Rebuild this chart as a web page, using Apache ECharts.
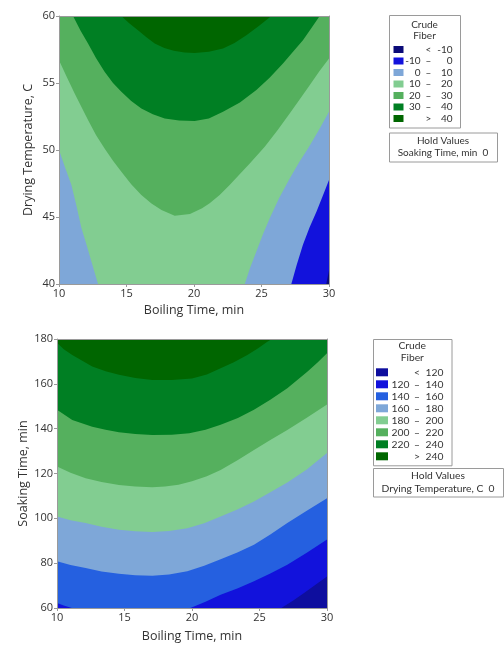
<!DOCTYPE html>
<html><head><meta charset="utf-8">
<script src="https://cdn.jsdelivr.net/npm/echarts@6/dist/echarts.min.js"></script>
<style>html,body{margin:0;padding:0;background:#fff}#c{width:504px;height:645px}</style>
</head><body><div id="c"></div>
<script>
// ---------- axes / ticks ----------
const boilTicks = [10, 15, 20, 25, 30];
const dryTicks = [40, 45, 50, 55, 60];
const soakTicks = [60, 80, 100, 120, 140, 160, 180];

// ---------- legend levels & colours ----------
const fiberLevels1 = [-10, 0, 10, 20, 30, 40];
const fiberColors1 = ['#0b0b78', '#1212dc', '#7ea7d8', '#82cd91', '#55b05e', '#007f23', '#006600'];
const fiberLevels2 = [120, 140, 160, 180, 200, 220, 240];
const fiberColors2 = ['#0e0e9e', '#1212dc', '#2560e0', '#7ea7d8', '#82cd91', '#55b05e', '#007f23', '#006600'];
const holdText1 = ['Hold Values', 'Soaking Time, min  0'];
const holdText2 = ['Hold Values', 'Drying Temperature, C  0'];

// ---------- chart 1 contour lines (Boiling Time x, Drying Temperature y) ----------
const dry_c10L = [[10,50],[10.45,48.7],[10.92,47.39],[11.3,45.8],[11.66,44.17],[12.05,42.9],[12.4,41.68],[12.89,40]];
const dry_c10R = [[23.76,40],[24.15,41.2],[24.62,42.43],[25.1,43.7],[25.61,44.91],[26.3,46.4],[27.1,47.89],[27.8,49.1],[28.5,50.2],[29.25,51.5],[30,52.85]];
const dry_c0R = [[27.21,40],[27.6,41.4],[28.07,42.93],[28.55,44.2],[29.07,45.4],[29.55,46.6],[30,47.77]];
const dry_cm10R = [[29.8,40],[30,41]];
const dry_c20 = [[10,56.7],[10.55,55.5],[11.16,54.22],[12.15,52.23],[12.75,51.1],[13.39,50.1],[14.0,49.2],[14.62,48.38],[15.35,47.45],[16.1,46.65],[16.85,46.0],[17.59,45.53],[18.57,45.1],[19.7,45.22],[20.6,45.65],[21.16,46.03],[21.9,46.65],[22.64,47.39],[23.4,48.2],[24.13,49.0],[25.24,50.25],[26.2,51.5],[27.1,52.75],[27.85,53.8],[28.58,54.86],[29.3,55.9],[30,56.83]];
const dry_c30 = [[11.04,60],[11.6,58.9],[12.15,57.94],[12.75,56.85],[13.39,55.83],[14.0,55.0],[14.62,54.34],[15.35,53.65],[16.1,53.1],[16.95,52.66],[17.83,52.36],[18.9,52.2],[20.05,52.16],[21.1,52.35],[22.15,52.85],[23.4,53.55],[24.62,54.47],[25.6,55.4],[26.59,56.46],[27.35,57.35],[28.07,58.19],[28.7,59.1],[29.31,60]];
const dry_c40 = [[14.62,60],[15.2,59.45],[15.85,58.94],[16.5,58.4],[17.09,57.94],[17.8,57.62],[18.5,57.4],[19.3,57.27],[20.05,57.24],[21.1,57.33],[22.15,57.57],[23.0,57.98],[23.88,58.56],[24.8,59.25],[25.73,60]];

// ---------- chart 2 contour lines (Boiling Time x, Soaking Time y) ----------
const soak_c120 = [[26.62,60],[27.5,63.3],[28.3,66.7],[29.15,70.4],[30,74.1]];
const soak_c140 = [[10,62.2],[10.5,61.1],[11.1,60],[19.88,60],[21.0,62.8],[22.12,65.9],[23.4,68.8],[24.59,71.9],[25.8,75.4],[27.06,79.3],[28.5,84.6],[30,90.6]];
const soak_c160 = [[10,80.8],[11.0,79.2],[12.12,77.8],[13.3,76.3],[14.59,75.3],[15.8,74.6],[17.06,74.4],[18.3,74.9],[19.65,76.4],[20.9,78.8],[22.12,81.8],[23.4,84.9],[24.59,88.2],[25.8,92.8],[27.06,97.9],[28.5,103.4],[30,109.0]];
const soak_c180 = [[10,100.8],[11.0,99.2],[12.12,97.9],[13.3,96.2],[14.59,94.9],[15.8,94.2],[17.06,93.9],[18.3,94.3],[19.65,95.6],[20.9,97.8],[22.12,100.8],[23.4,104.1],[24.59,107.5],[25.8,111.6],[27.06,116.0],[28.5,121.8],[30,129.1]];
const soak_c200 = [[10,123.1],[11.0,120.3],[12.12,117.9],[13.3,116.2],[14.59,114.9],[15.8,114.2],[17.06,113.9],[18.0,114.2],[19.0,115.0],[20.0,116.5],[21.1,118.8],[22.12,121.6],[23.4,126.0],[24.59,130.5],[25.8,134.9],[27.06,139.4],[28.5,144.9],[30,150.8]];
const soak_c220 = [[10,148.4],[11.13,143.9],[12.61,140.9],[13.6,139.5],[14.59,138.4],[15.8,137.6],[17.06,137.2],[18.5,137.3],[19.8,137.9],[21.0,139.5],[22.12,141.7],[23.4,144.8],[24.59,148.4],[25.8,152.9],[27.06,158.0],[27.8,161.7],[28.54,165.4],[29.3,169.5],[30,173.6]];
const soak_c240 = [[10,178.3],[10.5,175.4],[11.13,172.9],[12.61,167.7],[13.6,165.6],[14.59,164.0],[15.8,162.6],[17.06,161.7],[18.5,161.7],[20.0,162.4],[21.1,164.2],[22.12,166.9],[23.1,169.6],[24.1,172.9],[24.9,175.9],[25.58,178.8],[25.92,180]];

// ---------- build regions (layered super-level sets) ----------
const bx0 = boilTicks[0], bx1 = boilTicks[boilTicks.length-1];
const dy0 = dryTicks[0], dy1 = dryTicks[dryTicks.length-1];
const sy0 = soakTicks[0], sy1 = soakTicks[soakTicks.length-1];

const regions1 = [
  {pts: [[bx0,dy0],[bx1,dy0],[bx1,dy1],[bx0,dy1]], c: 3},
  {pts: dry_c10L.concat([[bx0,dy0]]), c: 2},
  {pts: dry_c10R.concat([[bx1,dy0]]), c: 2},
  {pts: dry_c0R.concat([[bx1,dy0]]), c: 1},
  {pts: dry_cm10R.concat([[bx1,dy0]]), c: 0},
  {pts: dry_c20.concat([[bx1,dy1],[bx0,dy1]]), c: 4},
  {pts: dry_c30, c: 5},
  {pts: dry_c40, c: 6}
];
const regions2 = [
  {pts: [[bx0,sy0],[bx1,sy0],[bx1,sy1],[bx0,sy1]], c: 0},
  {pts: [[bx0,sy0]].concat(soak_c120, [[bx1,sy1],[bx0,sy1]]), c: 1},
  {pts: soak_c140.concat([[bx1,sy1],[bx0,sy1]]), c: 2},
  {pts: soak_c160.concat([[bx1,sy1],[bx0,sy1]]), c: 3},
  {pts: soak_c180.concat([[bx1,sy1],[bx0,sy1]]), c: 4},
  {pts: soak_c200.concat([[bx1,sy1],[bx0,sy1]]), c: 5},
  {pts: soak_c220.concat([[bx1,sy1],[bx0,sy1]]), c: 6},
  {pts: soak_c240.concat([[bx0,sy1]]), c: 7}
];

function regionSeries(reg, colors, axisIdx) {
  return reg.map(r => ({
    type: 'custom',
    xAxisIndex: axisIdx, yAxisIndex: axisIdx,
    silent: true, clip: true, z: 2,
    data: r.pts,
    renderItem: function (params, api) {
      if (params.dataIndex !== 0) return;
      return {
        type: 'polygon',
        shape: { points: r.pts.map(p => api.coord(p)) },
        style: { fill: colors[r.c], stroke: null }
      };
    }
  }));
}

const FONT = 'Open Sans';
const LFONT = 'Lato';
const axisGray = '#9a9a9a';
function bottomAxis(grid, name, gap) {
  return {
    type: 'value', gridIndex: grid, position: 'bottom', min: bx0, max: bx1, interval: boilTicks[1]-boilTicks[0],
    name: name, nameLocation: 'middle', nameGap: gap, nameMoveOverlap: false,
    nameTextStyle: { color: '#333', fontSize: 12.5, fontFamily: FONT },
    axisLine: { show: true, onZero: false, lineStyle: { color: axisGray } },
    axisTick: { show: true, length: 3, lineStyle: { color: axisGray } },
    axisLabel: { color: '#333', fontSize: 11, fontFamily: FONT, margin: 4 },
    splitLine: { show: false }, z: 10
  };
}
function frameX(grid) {
  return { type: 'value', gridIndex: grid, position: 'top', min: bx0, max: bx1,
    axisLine: { show: true, onZero: false, lineStyle: { color: axisGray } },
    axisTick: { show: false }, axisLabel: { show: false }, splitLine: { show: false }, z: 10 };
}
function leftAxis(grid, ticks, name, gap) {
  return {
    type: 'value', gridIndex: grid, position: 'left', min: ticks[0], max: ticks[ticks.length-1], interval: ticks[1]-ticks[0],
    name: name, nameLocation: 'middle', nameGap: gap, nameMoveOverlap: false,
    nameTextStyle: { color: '#333', fontSize: 12.5, fontFamily: FONT },
    axisLine: { show: true, onZero: false, lineStyle: { color: axisGray } },
    axisTick: { show: true, length: 3, lineStyle: { color: axisGray } },
    axisLabel: { color: '#333', fontSize: 11, fontFamily: FONT, margin: 4 },
    splitLine: { show: false }, z: 10
  };
}
function frameY(grid, ticks) {
  return { type: 'value', gridIndex: grid, position: 'right', min: ticks[0], max: ticks[ticks.length-1],
    axisLine: { show: true, onZero: false, lineStyle: { color: axisGray } },
    axisTick: { show: false }, axisLabel: { show: false }, splitLine: { show: false }, z: 10 };
}

// ---------- legends (graphic) ----------
function legendGraphic(x0, y0, w, rowY0, rowH, swX, swW, swH, colLo, colDash, colHi, levels, colors, holdTop, holdW, holdH, holdText, titleY, fs) {
  const els = [];
  const n = colors.length;
  const f = fs + 'px "' + LFONT + '"';
  const boxH = rowY0 + (n - 1) * rowH + 9 - y0;
  els.push({ type: 'rect', shape: { x: x0 + 0.5, y: y0 + 0.5, width: w, height: boxH }, style: { fill: '#fff', stroke: '#9a9a9a', lineWidth: 1 }, z: 20 });
  const cx = x0 + w / 2;
  els.push({ type: 'text', x: cx, y: titleY, style: { text: 'Crude', fill: '#333', font: f, textAlign: 'center', textVerticalAlign: 'middle' }, z: 22 });
  els.push({ type: 'text', x: cx, y: titleY + 11.5, style: { text: 'Fiber', fill: '#333', font: f, textAlign: 'center', textVerticalAlign: 'middle' }, z: 22 });
  for (let i = 0; i < n; i++) {
    const y = rowY0 + i * rowH;
    els.push({ type: 'rect', shape: { x: swX, y: y - swH / 2, width: swW, height: swH }, style: { fill: colors[i] }, z: 21 });
    let lo, dash, hi;
    if (i === 0) { lo = ''; dash = '<'; hi = String(levels[0]); }
    else if (i === n - 1) { lo = ''; dash = '>'; hi = String(levels[n - 2]); }
    else { lo = String(levels[i - 1]); dash = '\u2013'; hi = String(levels[i]); }
    if (lo) els.push({ type: 'text', x: colLo, y: y, style: { text: lo, fill: '#333', font: f, textAlign: 'right', textVerticalAlign: 'middle' }, z: 22 });
    els.push({ type: 'text', x: colDash, y: y, style: { text: dash, fill: '#333', font: f, textAlign: 'center', textVerticalAlign: 'middle' }, z: 22 });
    els.push({ type: 'text', x: colHi, y: y, style: { text: hi, fill: '#333', font: f, textAlign: 'right', textVerticalAlign: 'middle' }, z: 22 });
  }
  els.push({ type: 'rect', shape: { x: x0 + 0.5, y: holdTop + 0.5, width: holdW, height: holdH }, style: { fill: '#fff', stroke: '#9a9a9a', lineWidth: 1 }, z: 20 });
  els.push({ type: 'text', x: x0 + holdW / 2, y: holdTop + 8, style: { text: holdText[0], fill: '#333', font: f, textAlign: 'center', textVerticalAlign: 'middle' }, z: 22 });
  els.push({ type: 'text', x: x0 + holdW / 2, y: holdTop + 20.5, style: { text: holdText[1], fill: '#333', font: f, textAlign: 'center', textVerticalAlign: 'middle' }, z: 22 });
  return els;
}

const chart = echarts.init(document.getElementById('c'), null, { renderer: 'canvas' });
chart.setOption({
  animation: false,
  backgroundColor: '#fff',
  grid: [
    { left: 59, top: 16, width: 270, height: 268, show: false },
    { left: 57, top: 339, width: 270, height: 269, show: false }
  ],
  xAxis: [bottomAxis(0, 'Boiling Time, min', 20), frameX(0), bottomAxis(1, 'Boiling Time, min', 22), frameX(1)],
  yAxis: [leftAxis(0, dryTicks, 'Drying Temperature, C', 24.5), frameY(0, dryTicks), leftAxis(1, soakTicks, 'Soaking Time, min', 27.5), frameY(1, soakTicks)],
  series: regionSeries(regions1, fiberColors1, 0).concat(regionSeries(regions2, fiberColors2, 2)),
  graphic: legendGraphic(389, 15, 71, 49.5, 11.5, 393.5, 10, 7, 420.5, 428.5, 452.5, fiberLevels1, fiberColors1, 132.5, 108, 29, holdText1, 24.5, 10)
    .concat(legendGraphic(373, 339, 78.5, 372.3, 12, 376, 12, 8, 409.5, 417, 443.5, fiberLevels2, fiberColors2, 468, 130, 28.5, holdText2, 346, 10.3))
});
</script>
</body></html>
